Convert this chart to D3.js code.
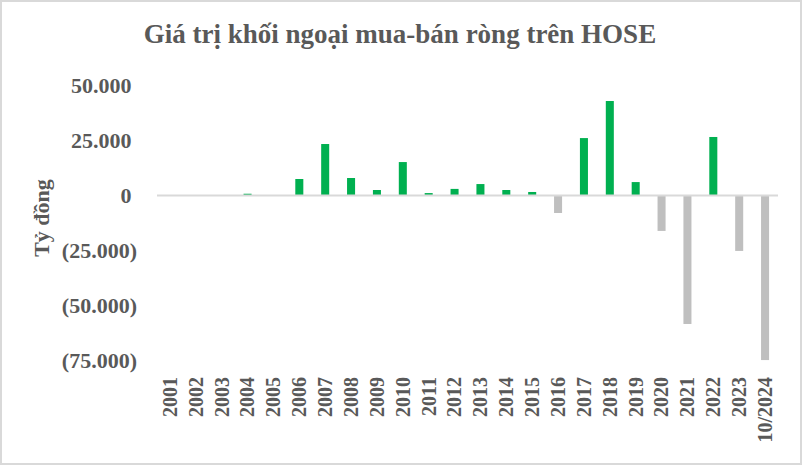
<!DOCTYPE html>
<html>
<head>
<meta charset="utf-8">
<script src="https://cdn.jsdelivr.net/npm/d3@7"></script>
<style>
  html, body { margin: 0; padding: 0; background: #fff; }
  svg { display: block; }
</style>
</head>
<body>
<svg id="chart" width="802" height="465"></svg>
<script>
const categories = ["2001","2002","2003","2004","2005","2006","2007","2008","2009","2010","2011","2012","2013","2014","2015","2016","2017","2018","2019","2020","2021","2022","2023","10/2024"];
const values = [0, 0, 0, 800, 0, 7500, 23400, 7950, 2500, 15200, 1100, 3000, 5200, 2500, 1600, -7950, 26100, 42950, 6100, -16100, -58400, 26600, -25200, -74800];
const yTicks = [50000, 25000, 0, -25000, -50000, -75000];
const title = "Giá trị khối ngoại mua-bán ròng trên HOSE";
const yTitle = "Tỷ đồng";

const W = 802, H = 465;
const svg = d3.select("#chart");
const textColor = "#595959";
const font = "'Liberation Serif', 'Times New Roman', serif";

// outer border
svg.append("rect").attr("x", 1).attr("y", 1).attr("width", W - 2).attr("height", H - 2)
  .attr("fill", "#fff").attr("stroke", "#d9d9d9").attr("stroke-width", 2);

const x = d3.scaleBand().domain(categories).range([157, 778]).paddingInner(0.69).paddingOuter(0.345);
const y = d3.scaleLinear().domain([-75000, 50000]).range([360.5, 85.5]);

// bars
svg.append("g").selectAll("rect").data(values).join("rect")
  .attr("x", (d, i) => x(categories[i]))
  .attr("width", x.bandwidth())
  .attr("y", d => d >= 0 ? y(d) : y(0))
  .attr("height", d => Math.abs(y(d) - y(0)))
  .attr("fill", d => d >= 0 ? "#00b050" : "#bfbfbf");

// zero line
svg.append("line").attr("x1", 157).attr("x2", 778).attr("y1", y(0)).attr("y2", y(0))
  .attr("stroke", "#d9d9d9").attr("stroke-width", 2);

// y axis labels
const fmt = v => {
  const s = d3.format(",")(Math.abs(v)).replace(/,/g, ".");
  return v < 0 ? "(" + s + ")" : s;
};
const yAxis = d3.axisLeft(y).tickValues(yTicks).tickSize(0).tickPadding(0).tickFormat(fmt);
const yg = svg.append("g").attr("transform", "translate(137,0)").call(yAxis);
yg.select(".domain").remove();
yg.selectAll("text")
  .attr("font-family", font).attr("font-weight", "bold").attr("font-size", 22)
  .attr("fill", textColor)
  .attr("dx", d => d >= 0 ? -5.5 : 0)
  .attr("dy", "0.34em");

// x axis labels
const xAxis = d3.axisBottom(x).tickSize(0).tickPadding(0);
const xg = svg.append("g").attr("transform", "translate(0,377)").call(xAxis);
xg.select(".domain").remove();
xg.selectAll("text")
  .attr("font-family", font).attr("font-weight", "bold").attr("font-size", 20)
  .attr("fill", textColor)
  .attr("text-anchor", "end")
  .attr("transform", "rotate(-90)")
  .attr("x", 0).attr("y", 0).attr("dy", "0.34em");

// title
svg.append("text").attr("x", 400).attr("y", 43).attr("text-anchor", "middle")
  .attr("font-family", font).attr("font-weight", "bold").attr("font-size", 27)
  .attr("fill", textColor).text(title);

// y title
svg.append("text").attr("transform", "translate(49,218) rotate(-90)")
  .attr("text-anchor", "middle")
  .attr("font-family", font).attr("font-weight", "bold").attr("font-size", 22)
  .attr("fill", textColor).text(yTitle);
</script>
</body>
</html>
